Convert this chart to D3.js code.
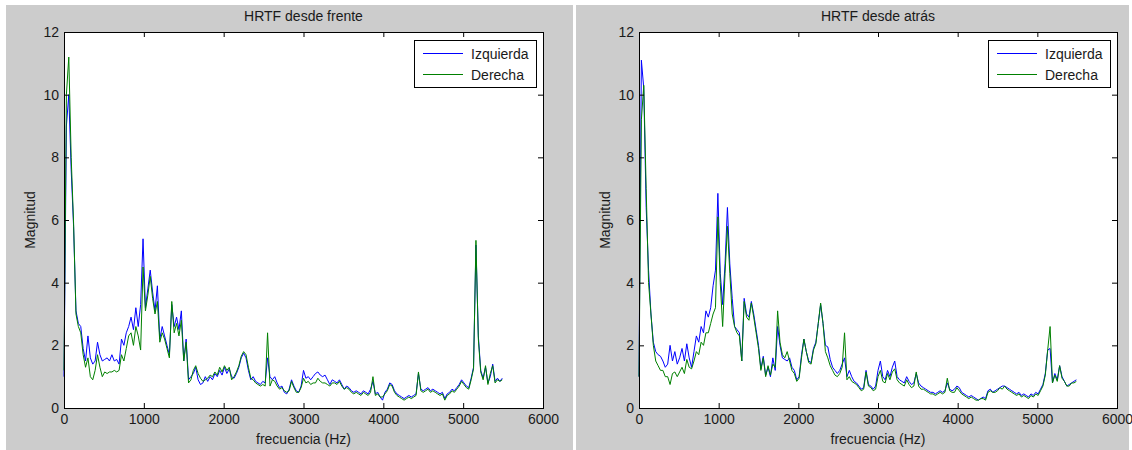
<!DOCTYPE html>
<html>
<head>
<meta charset="utf-8">
<script src="https://cdn.jsdelivr.net/npm/d3@7"></script>
<style>
  body { margin: 0; background: #ffffff; }
  svg { display: block; font-family: "Liberation Sans", Arial, sans-serif; }
</style>
</head>
<body>
<svg id="fig" width="1132" height="450"></svg>
<script>
// Frequency grid spacing of the measured magnitude responses (Hz)
const STEP_HZ = 30;

const xTicks = [0, 1000, 2000, 3000, 4000, 5000, 6000];
const yTicks = [0, 2, 4, 6, 8, 10, 12];
const panelTitles = ["HRTF desde frente", "HRTF desde atrás"];
const seriesNames = ["Izquierda", "Derecha"];
const seriesColors = ["#0000ff", "#008000"];
const xLabel = "frecuencia (Hz)";
const yLabel = "Magnitud";

// Magnitude, source in front (left ear / right ear)
const frenteIzquierda = [
  1.0, 9.0, 10.0, 7.6, 5.8, 3.1, 2.7, 2.6, 1.9, 1.5,
  2.3, 1.6, 1.4, 1.5, 2.1, 1.7, 1.5, 1.55, 1.6, 1.5,
  1.7, 1.5, 1.55, 1.4, 2.2, 2.0, 2.4, 2.6, 2.9, 2.5,
  3.2, 2.6, 3.3, 5.4, 3.2, 3.8, 4.4, 3.7, 3.1, 3.9,
  2.2, 2.6, 2.3, 2.0, 1.7, 3.3, 2.6, 2.9, 2.5, 3.1,
  1.5, 2.2, 0.9, 1.0, 1.1, 1.3, 0.9, 0.75, 0.8, 1.0,
  0.85, 1.0, 0.9, 1.1, 1.0, 1.2, 1.05, 1.3, 1.1, 1.25,
  1.0, 0.95, 1.1, 1.3, 1.6, 1.75, 1.6, 1.2, 0.9, 1.0,
  0.85, 0.8, 0.75, 0.85, 0.8, 1.6, 1.0, 0.9, 1.0, 0.8,
  0.65, 0.7, 0.5, 0.45, 0.6, 0.9, 0.7, 0.55, 0.5, 0.7,
  1.2, 0.95, 1.0, 0.9, 1.0, 1.1, 1.15, 1.05, 1.0, 1.05,
  0.9, 0.75, 0.9, 0.85, 0.8, 0.9, 0.75, 0.6, 0.7, 0.65,
  0.55, 0.5, 0.55, 0.5, 0.45, 0.55, 0.5, 0.45, 0.6, 0.85,
  0.45, 0.5, 0.35, 0.25, 0.5, 0.6, 0.8, 0.75, 0.55, 0.45,
  0.4, 0.35, 0.3, 0.35, 0.4, 0.35, 0.4, 0.45, 1.1, 0.6,
  0.55, 0.6, 0.65, 0.55, 0.6, 0.55, 0.5, 0.45, 0.5, 0.3,
  0.45, 0.5, 0.6, 0.55, 0.65, 0.75, 0.9, 0.8, 0.7, 0.65,
  0.95, 1.3, 5.2, 2.3, 1.2, 0.95, 1.3, 0.8, 1.0, 1.4,
  0.85, 0.95, 0.85, 0.95
];
const frenteDerecha = [
  1.2, 10.0, 11.2, 8.0, 5.9, 3.0, 2.6, 2.4, 1.7, 1.3,
  1.6, 1.0, 0.9, 1.2, 1.7, 1.3, 1.0, 1.15, 1.1, 1.15,
  1.15, 1.2, 1.15, 1.2, 1.7, 1.5, 1.9, 2.3, 2.4, 2.0,
  2.6, 2.3, 1.85, 4.5, 3.1, 3.6, 4.2, 3.5, 3.0, 3.4,
  2.1, 2.4, 2.2, 1.9, 1.6, 3.4, 2.4, 2.7, 2.3, 2.8,
  1.5, 2.1, 0.8, 0.9, 1.2, 1.35, 1.1, 0.95, 0.85, 0.9,
  0.95, 1.05, 1.0, 1.15, 1.05, 1.3, 1.15, 1.35, 1.2, 1.3,
  0.9, 1.0, 1.15, 1.35, 1.65, 1.8, 1.7, 1.3, 0.95, 0.9,
  0.8, 0.75, 0.7, 0.75, 0.7, 2.4, 0.7, 0.9, 0.85, 0.7,
  0.6, 0.65, 0.55, 0.5, 0.55, 0.85, 0.65, 0.5, 0.5, 0.65,
  0.95, 0.8, 0.85, 0.75, 0.8, 0.8, 0.95, 0.85, 0.8, 0.8,
  0.75, 0.7, 0.8, 0.8, 0.75, 0.85, 0.7, 0.6, 0.65, 0.6,
  0.5, 0.45, 0.5, 0.45, 0.4, 0.5, 0.45, 0.4, 0.5, 1.0,
  0.4, 0.45, 0.35, 0.35, 0.45, 0.55, 0.75, 0.7, 0.5, 0.4,
  0.35, 0.3, 0.25, 0.3, 0.35, 0.3, 0.35, 0.4, 1.15, 0.55,
  0.5, 0.55, 0.6, 0.5, 0.55, 0.5, 0.45, 0.4, 0.45, 0.25,
  0.4, 0.45, 0.55, 0.5, 0.6, 0.7, 0.85, 0.75, 0.65, 0.6,
  0.9, 1.25, 5.35, 2.2, 1.15, 0.9, 1.35, 0.75, 1.1, 1.35,
  0.8, 0.9, 0.85, 0.9
];

// Magnitude, source behind (left ear / right ear)
const atrasIzquierda = [
  1.0, 11.1, 10.2, 6.4, 4.4, 3.0, 2.1, 1.8, 1.7, 1.65,
  1.5, 1.3, 1.4, 2.0, 1.5, 1.8, 1.4, 1.6, 1.9, 1.5,
  2.05, 1.6, 1.3, 1.8, 2.3, 2.1, 2.6, 2.4, 3.1, 2.9,
  3.2, 3.9, 4.4, 6.85, 4.3, 3.3, 4.6, 6.4, 4.6, 3.5,
  2.6, 2.5, 2.4, 1.5, 3.5, 3.0, 2.9, 3.4, 3.0, 2.5,
  2.0, 1.25, 1.65, 1.05, 1.3, 1.0, 1.6, 1.2, 2.6, 2.0,
  1.6, 1.55, 1.5, 1.6, 1.3, 1.2, 0.9, 1.0, 1.7, 2.2,
  1.8, 1.5, 1.45, 1.9, 2.1, 2.7, 3.3, 2.7, 2.0, 1.95,
  1.55, 1.3, 1.2, 1.1, 1.2, 1.4, 1.6, 1.0, 1.2, 1.0,
  0.85, 0.8, 0.7, 0.6, 0.65, 1.2, 0.75, 0.7, 0.6, 0.7,
  1.2, 1.5, 1.0, 0.9, 1.2, 1.0, 1.3, 1.5, 1.0, 0.9,
  0.85, 0.8, 1.0, 0.85, 0.75, 0.8, 1.1, 0.8, 0.7, 0.65,
  0.6, 0.55, 0.5, 0.5, 0.45, 0.5, 0.55, 0.5, 0.55, 0.8,
  0.6, 0.55, 0.6, 0.7, 0.65, 0.5, 0.45, 0.4, 0.35, 0.4,
  0.35, 0.3, 0.25, 0.3, 0.35, 0.3, 0.55, 0.6, 0.5, 0.55,
  0.6, 0.65, 0.7, 0.7, 0.65, 0.6, 0.55, 0.5, 0.45, 0.5,
  0.4, 0.45, 0.4, 0.35, 0.45, 0.4, 0.5, 0.45, 0.6, 0.75,
  1.1, 1.85, 1.9, 0.8, 1.1, 0.9, 1.35, 1.0, 0.85, 0.7,
  0.75, 0.8, 0.85, 0.9
];
const atrasDerecha = [
  1.0, 9.2, 10.3, 7.0, 4.0, 3.0, 2.0, 1.5, 1.35, 1.2,
  1.2, 1.0, 1.0, 0.75, 1.1, 1.15, 1.0, 1.15, 1.3, 1.1,
  1.55, 1.3, 1.25, 1.5, 1.8, 1.7, 2.1, 2.0, 2.4, 2.4,
  2.7, 3.0, 3.2, 6.1, 4.0, 2.6, 4.3, 5.8, 4.3, 3.0,
  2.6, 2.4, 2.3, 1.5, 3.4, 2.9, 2.8, 3.35, 2.9, 2.4,
  1.9, 1.2, 1.6, 1.0, 1.35, 1.05, 1.4, 1.3, 3.1, 2.1,
  1.7, 1.6, 1.8, 1.5, 1.2, 1.1, 0.85, 0.95, 1.6, 2.2,
  1.8, 1.45, 1.4, 1.85, 2.05, 2.7, 3.35, 2.7, 1.8, 1.6,
  1.35, 1.2, 1.05, 1.0, 1.1, 1.3, 2.4, 0.9, 1.0, 0.85,
  0.8, 0.75, 0.65, 0.55, 0.6, 1.15, 0.7, 0.65, 0.55, 0.6,
  1.0, 1.2, 0.85, 0.8, 1.1, 0.9, 1.15, 1.25, 0.9, 0.8,
  0.75, 0.7, 0.9, 0.75, 0.65, 0.7, 1.15, 0.7, 0.6, 0.6,
  0.55, 0.5, 0.45, 0.45, 0.4, 0.45, 0.5, 0.45, 0.5, 0.95,
  0.55, 0.5, 0.5, 0.65, 0.55, 0.45, 0.4, 0.35, 0.3, 0.35,
  0.3, 0.25, 0.25, 0.3, 0.3, 0.25, 0.5, 0.55, 0.5, 0.5,
  0.55, 0.65, 0.6, 0.7, 0.6, 0.55, 0.5, 0.45, 0.4, 0.45,
  0.35, 0.4, 0.35, 0.3, 0.4, 0.35, 0.45, 0.4, 0.55, 0.7,
  1.05, 1.85, 2.6, 0.8, 1.05, 0.85, 1.35, 0.95, 0.85, 0.7,
  0.7, 0.8, 0.8, 0.85
];

const panels = [
  { title: panelTitles[0], series: [frenteIzquierda, frenteDerecha],
    bg: { x: 6, y: 5, w: 567, h: 445 }, plot: { x0: 64, y0: 32, x1: 543, y1: 408 } },
  { title: panelTitles[1], series: [atrasIzquierda, atrasDerecha],
    bg: { x: 576, y: 5, w: 553, h: 445 }, plot: { x0: 639, y0: 32, x1: 1117, y1: 408 } }
];

const svg = d3.select("#fig");
const FONT = 14;
const TICK = 5;

panels.forEach(p => {
  const g = svg.append("g");

  // figure background
  g.append("rect")
    .attr("x", p.bg.x).attr("y", p.bg.y)
    .attr("width", p.bg.w).attr("height", p.bg.h)
    .attr("fill", "#cccccc");

  const x = d3.scaleLinear().domain([0, 6000]).range([p.plot.x0, p.plot.x1]);
  const y = d3.scaleLinear().domain([0, 12]).range([p.plot.y1, p.plot.y0]);

  // axes area
  g.append("rect")
    .attr("x", p.plot.x0).attr("y", p.plot.y0)
    .attr("width", p.plot.x1 - p.plot.x0).attr("height", p.plot.y1 - p.plot.y0)
    .attr("fill", "#ffffff");

  // response curves: left ear first, right ear on top
  const line = d3.line()
    .x((d, i) => x(i * STEP_HZ))
    .y(d => y(d));
  p.series.forEach((vals, k) => {
    g.append("path")
      .datum(vals)
      .attr("d", line)
      .attr("fill", "none")
      .attr("stroke", seriesColors[k])
      .attr("stroke-width", 1)
      .attr("stroke-linejoin", "miter");
  });

  // axes with inward ticks on all four sides
  const styleAxis = sel => {
    sel.select(".domain").remove();
    sel.selectAll(".tick line").attr("stroke", "#000").attr("stroke-width", 1);
    sel.selectAll(".tick text").attr("fill", "#1a1a1a").style("font-size", FONT + "px")
      .style("font-family", '"Liberation Sans", Arial, sans-serif');
  };

  g.append("g")
    .attr("transform", `translate(0,${p.plot.y1})`)
    .call(d3.axisBottom(x).tickValues(xTicks).tickSizeInner(-TICK).tickSizeOuter(0).tickPadding(6).tickFormat(d3.format("d")))
    .call(styleAxis);
  g.append("g")
    .attr("transform", `translate(0,${p.plot.y0})`)
    .call(d3.axisTop(x).tickValues(xTicks).tickSizeInner(-TICK).tickSizeOuter(0).tickFormat(""))
    .call(styleAxis);
  g.append("g")
    .attr("transform", `translate(${p.plot.x0},0)`)
    .call(d3.axisLeft(y).tickValues(yTicks).tickSizeInner(-TICK).tickSizeOuter(0).tickPadding(5).tickFormat(d3.format("d")))
    .call(styleAxis);
  g.append("g")
    .attr("transform", `translate(${p.plot.x1},0)`)
    .call(d3.axisRight(y).tickValues(yTicks).tickSizeInner(-TICK).tickSizeOuter(0).tickFormat(""))
    .call(styleAxis);

  // axes box
  g.append("rect")
    .attr("x", p.plot.x0 + 0.5).attr("y", p.plot.y0 + 0.5)
    .attr("width", p.plot.x1 - p.plot.x0).attr("height", p.plot.y1 - p.plot.y0)
    .attr("fill", "none").attr("stroke", "#000").attr("stroke-width", 1);

  const cx = (p.plot.x0 + p.plot.x1) / 2;
  const cy = (p.plot.y0 + p.plot.y1) / 2;

  g.append("text")
    .attr("x", cx).attr("y", 21)
    .attr("text-anchor", "middle")
    .attr("fill", "#1a1a1a")
    .style("font-size", FONT + "px")
    .text(p.title);

  g.append("text")
    .attr("x", cx).attr("y", 444)
    .attr("text-anchor", "middle")
    .attr("fill", "#1a1a1a")
    .style("font-size", FONT + "px")
    .text(xLabel);

  g.append("text")
    .attr("transform", `translate(${p.plot.x0 - 29},${cy}) rotate(-90)`)
    .attr("text-anchor", "middle")
    .attr("fill", "#1a1a1a")
    .style("font-size", FONT + "px")
    .text(yLabel);

  // legend
  const lw = 122, lh = 47;
  const lx = p.plot.x1 - 7 - lw, ly = p.plot.y0 + 8;
  const leg = g.append("g").attr("transform", `translate(${lx},${ly})`);
  leg.append("rect")
    .attr("x", 0.5).attr("y", 0.5).attr("width", lw).attr("height", lh)
    .attr("fill", "#ffffff").attr("stroke", "#000").attr("stroke-width", 1);
  seriesNames.forEach((name, k) => {
    const yy = 13.5 + k * 21;
    leg.append("line")
      .attr("x1", 9).attr("x2", 49).attr("y1", yy).attr("y2", yy)
      .attr("stroke", seriesColors[k]).attr("stroke-width", 1);
    leg.append("text")
      .attr("x", 57).attr("y", yy + 5)
      .attr("fill", "#1a1a1a")
      .style("font-size", FONT + "px")
      .text(name);
  });
});
</script>
</body>
</html>
